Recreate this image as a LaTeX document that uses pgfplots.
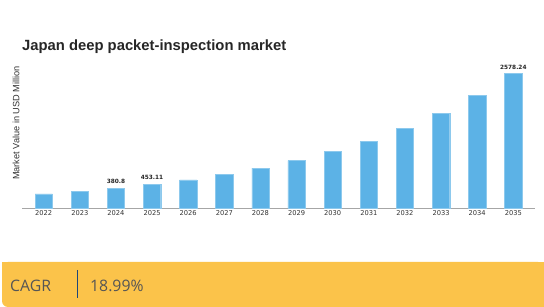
\documentclass[border=0pt]{standalone}
\usepackage{pgfplots}
\pgfplotsset{compat=1.18}
\usepackage{fontspec}
\setmainfont{Liberation Sans}
\newfontfamily\dejavu{DejaVu Sans}
\newfontfamily\opensans{Open Sans}
\definecolor{barblue}{RGB}{92,178,230}
\definecolor{banner}{RGB}{251,195,74}
\definecolor{bannertext}{RGB}{85,85,85}
\definecolor{sepblue}{RGB}{30,70,120}
\pgfplotstableread{
x year value
0 2022 268.96
1 2023 320.03
2 2024 380.8
3 2025 453.11
4 2026 539.15
5 2027 641.54
6 2028 763.37
7 2029 908.34
8 2030 1080.83
9 2031 1286.08
10 2032 1530.31
11 2033 1820.92
12 2034 2166.71
13 2035 2578.24
}\datatable
\begin{document}
\begin{tikzpicture}[x=1pt,y=1pt]
\path[use as bounding box] (0,0) rectangle (544,-307);
\fill[white] (0,0) rectangle (544,-307);
\node[anchor=base west,font=\bfseries\fontsize{14.8}{17}\selectfont,text=black!85,inner sep=0] at (22,-51) {Japan deep packet-inspection market};
\begin{axis}[
  at={(22pt,-208pt)}, anchor=south west,
  scale only axis, width=513pt, height=145.85pt,
  xmin=-0.6, xmax=13.6, ymin=0, ymax=2800,
  axis x line=bottom, axis y line=none,
  axis line style={black!35,-},
  x axis line style={-},
  xtick=data,
  xticklabels={2022,2023,2024,2025,2026,2027,2028,2029,2030,2031,2032,2033,2034,2035},
  xticklabel style={font=\dejavu\fontsize{6.7}{8}\selectfont,text=black!80,yshift=1pt},
  major tick length=0pt,
  clip=false,
]
\addplot[ybar, bar width=17.3pt, fill=barblue, draw=barblue!70!white] table[x=x,y=value] {\datatable};
\addplot[only marks, mark=none, nodes near coords={\pgfplotspointmeta}, point meta=explicit symbolic,
  nodes near coords style={font=\dejavu\bfseries\fontsize{5.8}{7}\selectfont, text=black!85, anchor=south, yshift=1pt}]
  coordinates {(2,380.8) [380.8] (3,453.11) [453.11] (13,2578.24) [2578.24]};
\end{axis}
\node[rotate=90,font=\fontsize{9.2}{11}\selectfont,text=black!80] at (16,-123) {Market Value in USD Million};
\fill[banner, rounded corners=6pt] (2,-262) -- (544,-262) -- (544,-307) -- (2,-307) -- cycle;
\fill[banner] (2,-262) rectangle (544,-280);
\fill[banner] (30,-262) rectangle (544,-307);
\node[anchor=base west,font=\opensans\fontsize{15.8}{18}\selectfont,text=bannertext,inner sep=0] at (10,-291.5) {CAGR};
\draw[sepblue,line width=1pt] (77,-270) -- (77,-298);
\node[anchor=base west,font=\opensans\fontsize{15.8}{18}\selectfont,text=bannertext,inner sep=0] at (90,-291.5) {18.99\%};
\end{tikzpicture}
\end{document}
